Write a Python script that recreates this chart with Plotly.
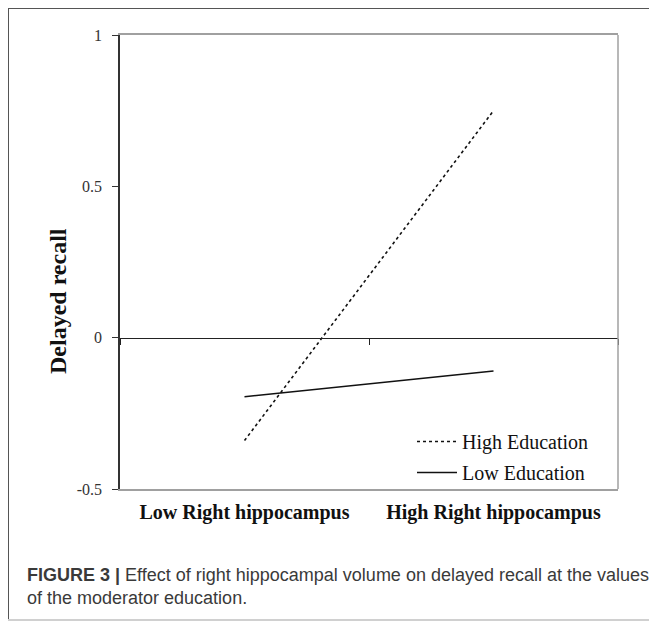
import plotly.graph_objects as go

# ---- data ----
categories = ["Low Right hippocampus", "High Right hippocampus"]
high_education = [-0.34, 0.75]
low_education = [-0.195, -0.11]
series_names = ["High Education", "Low Education"]
y_tickvals = [-0.5, 0, 0.5, 1]
y_ticktext = ["-0.5", "0", "0.5", "1"]
y_title = "Delayed recall"
caption_bold = "FIGURE 3 |"
caption_line1 = " Effect of right hippocampal volume on delayed recall at the values"
caption_line2 = "of the moderator education."

OFF = 8  # page body margin
W, H = 657 - OFF, 621 - OFF
L, R, T, B = 120 - OFF, 39, 35 - OFF, 132
PW, PH = W - L - R, H - T - B


def px_x(x):
    return (x - OFF - L) / PW


def px_y(y):
    return (H - B - (y - OFF)) / PH


serif = "Liberation Serif, Times New Roman, serif"
sans = "Liberation Sans, Arial, Helvetica, sans-serif"

fig = go.Figure()
fig.add_trace(go.Scatter(
    x=categories, y=high_education, mode="lines", name=series_names[0],
    line=dict(color="#111", width=1.6, dash="dot"), legendgroup="a",
))
fig.add_trace(go.Scatter(
    x=categories, y=low_education, mode="lines", name=series_names[1],
    line=dict(color="#111", width=1.6), legendgroup="b",
))
# invisible trace to host the zero-line axis
fig.add_trace(go.Scatter(
    x=categories, y=[None, None], xaxis="x2", showlegend=False, hoverinfo="skip",
))

fig.update_layout(
    width=W, height=H,
    margin=dict(l=L, r=R, t=T, b=B),
    paper_bgcolor="white", plot_bgcolor="white",
    showlegend=True,
    legend=dict(
        x=px_x(412), y=px_y(422), xanchor="left", yanchor="top",
        font=dict(family=serif, size=20, color="#111"),
        bgcolor="rgba(0,0,0,0)", tracegroupgap=2, itemwidth=40,
    ),
    xaxis=dict(
        type="category", categoryorder="array", categoryarray=categories,
        range=[-0.5, 1.5], showgrid=False, zeroline=False,
        showline=True, linecolor="#a0a0a0", linewidth=2, mirror=True,
        ticks="", ticklabelstandoff=4,
        tickfont=dict(family=serif, size=20, color="#111", weight="bold"),
    ),
    xaxis2=dict(
        type="category", categoryorder="array", categoryarray=categories,
        range=[-0.5, 1.5], overlaying="x", anchor="free", position=1 / 3,
        showgrid=False, zeroline=False, showline=True, linecolor="#222",
        linewidth=1.3, ticks="outside", ticklen=6, tickcolor="#222",
        tickson="boundaries", showticklabels=False,
    ),
    yaxis=dict(
        range=[-0.5, 1], tickvals=y_tickvals, ticktext=y_ticktext,
        showgrid=False, zeroline=False, showline=True, linecolor="#333",
        linewidth=1.5, ticks="outside", ticklen=6, tickcolor="#333",
        ticklabelstandoff=7,
        tickfont=dict(family=serif, size=16, color="#333"),
    ),
    shapes=[
        # right border of plot
        dict(type="line", xref="paper", yref="paper", x0=1, x1=1, y0=0, y1=1,
             line=dict(color="#a0a0a0", width=1.5)),
        # outer figure frame
        dict(type="line", xref="paper", yref="paper", x0=px_x(8), x1=px_x(700),
             y0=px_y(8), y1=px_y(8), line=dict(color="#555", width=2)),
        dict(type="line", xref="paper", yref="paper", x0=px_x(8), x1=px_x(8),
             y0=px_y(8), y1=px_y(620), line=dict(color="#555", width=2)),
        dict(type="line", xref="paper", yref="paper", x0=px_x(8), x1=px_x(700),
             y0=px_y(620), y1=px_y(620), line=dict(color="#d0d0d0", width=2)),
    ],
    annotations=[
        dict(xref="paper", yref="paper", x=px_x(58), y=px_y(301),
             xanchor="center", yanchor="middle", showarrow=False, textangle=-90,
             text=f"<b>{y_title}</b>",
             font=dict(family=serif, size=24, color="#111")),
        dict(xref="paper", yref="paper", x=px_x(25), y=px_y(575),
             xanchor="left", yanchor="middle", showarrow=False, align="left",
             text=f"<b>{caption_bold}</b>{caption_line1}",
             font=dict(family=sans, size=18, color="#3a3a3a")),
        dict(xref="paper", yref="paper", x=px_x(25), y=px_y(598),
             xanchor="left", yanchor="middle", showarrow=False, align="left",
             text=caption_line2,
             font=dict(family=sans, size=18, color="#3a3a3a")),
    ],
)

fig.write_html("out.html")
